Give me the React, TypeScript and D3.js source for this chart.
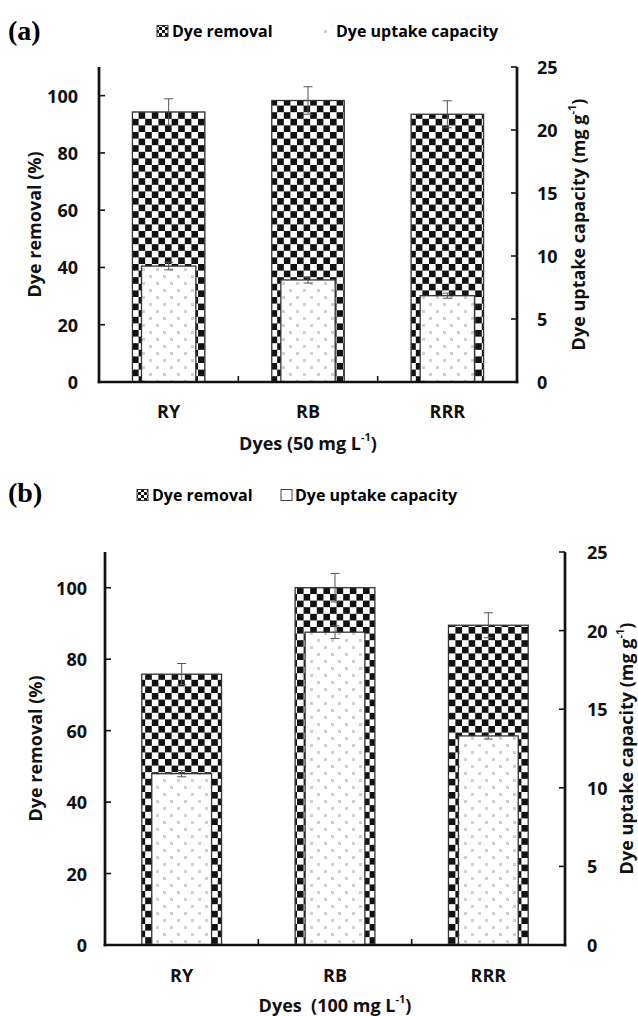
import React from 'react';
import * as d3 from 'd3';

// values
const dyes = ['RY', 'RB', 'RRR'];
const removal50 = [94.3, 98.3, 93.5];
const removalErr50 = [4.6, 4.8, 4.7];
const uptake50 = [9.2, 8.1, 6.85];
const uptakeErr50 = [0.3, 0.25, 0.2];
const removal100 = [75.8, 100, 89.5];
const removalErr100 = [3, 4, 3.5];
const uptake100 = [10.9, 19.9, 13.3];
const uptakeErr100 = [0.2, 0.4, 0.2];
const removalTicks = [0, 20, 40, 60, 80, 100];
const uptakeTicks = [0, 5, 10, 15, 20, 25];

const font = "'Open Sans', sans-serif";

const panels = [
  {
    tag: '(a)', tagY: 40,
    left: 99, right: 517, top: 67, bottom: 382,
    removal: removal50, removalErr: removalErr50,
    uptake: uptake50, uptakeErr: uptakeErr50,
    legendY: 31, legX1: 157, legX2: 322, boxedUptakeIcon: false,
    leftGap: 21, rightGap: 20, leftTitleX: 34, rightTitleX: 578,
    catY: 411, titleY: 443, xTitle: 'Dyes (50 mg L',
  },
  {
    tag: '(b)', tagY: 502,
    left: 105, right: 565, top: 552, bottom: 945,
    removal: removal100, removalErr: removalErr100,
    uptake: uptake100, uptakeErr: uptakeErr100,
    legendY: 495, legX1: 137, legX2: 281, boxedUptakeIcon: true,
    leftGap: 18, rightGap: 22, leftTitleX: 35, rightTitleX: 626,
    catY: 975, titleY: 1005, xTitle: 'Dyes  (100 mg L',
  },
];

const Panel = ({ p }) => {
  const x = d3.scaleBand().domain(dyes).range([p.left, p.right]);
  const yL = d3.scaleLinear().domain([0, 110]).range([p.bottom, p.top]);
  const yR = d3.scaleLinear().domain([0, 25]).range([p.bottom, p.top]);
  const bw = x.bandwidth();
  const wRem = bw * 0.52, wUp = bw * 0.39;
  const cap = 4.5;
  const midY = (p.top + p.bottom) / 2;
  const errColor = '#555';

  return (
    <g>
      <text x={8} y={p.tagY} fontFamily="'Liberation Serif', serif" fontWeight="bold" fontSize={28}>{p.tag}</text>

      {/* legend */}
      <g fontFamily={font} fontWeight="bold" fontSize={16}>
        <rect x={p.legX1} y={p.legendY - 5.5} width={11} height={11} fill="url(#checkS)" stroke="#333" strokeWidth={1} />
        <text x={p.legX1 + 15} y={p.legendY} dominantBaseline="central">Dye removal</text>
        <rect x={p.legX2} y={p.legendY - 5.5} width={11} height={11} fill={p.boxedUptakeIcon ? '#fff' : 'url(#dots)'}
          stroke={p.boxedUptakeIcon ? '#444' : 'none'} strokeWidth={1} />
        <text x={p.legX2 + 14} y={p.legendY} dominantBaseline="central">Dye uptake capacity</text>
      </g>

      {/* bars */}
      {dyes.map((d, i) => {
        const cx = x(d) + bw / 2;
        return (
          <g key={d}>
            <rect x={cx - wRem / 2} y={yL(p.removal[i])} width={wRem} height={p.bottom - yL(p.removal[i])}
              fill="url(#check)" stroke="#333" strokeWidth={1.3} />
            <rect x={cx - wUp / 2} y={yR(p.uptake[i])} width={wUp} height={p.bottom - yR(p.uptake[i])}
              fill="url(#dots)" stroke="#333" strokeWidth={1.3} />
          </g>
        );
      })}

      {/* error bars */}
      {dyes.map((d, i) => {
        const cx = x(d) + bw / 2;
        const r1 = yL(p.removal[i] + p.removalErr[i]), r0 = yL(p.removal[i] - p.removalErr[i]);
        const u1 = yR(p.uptake[i] + p.uptakeErr[i]), u0 = yR(p.uptake[i] - p.uptakeErr[i]);
        return (
          <g key={d} stroke={errColor} strokeWidth={1}>
            <line x1={cx} x2={cx} y1={r1} y2={r0} />
            <line x1={cx - cap} x2={cx + cap} y1={r1} y2={r1} />
            <line x1={cx - cap} x2={cx + cap} y1={r0} y2={r0} />
            <line x1={cx} x2={cx} y1={u1} y2={u0} />
            <line x1={cx - cap} x2={cx + cap} y1={u1} y2={u1} />
            <line x1={cx - cap} x2={cx + cap} y1={u0} y2={u0} />
          </g>
        );
      })}

      {/* axes */}
      <g stroke="#111" fill="none">
        <line x1={p.left} x2={p.left} y1={p.top} y2={p.bottom + 1.3} strokeWidth={2.7} />
        <line x1={p.right} x2={p.right} y1={p.top} y2={p.bottom + 1.3} strokeWidth={2.7} />
        <line x1={p.left - 1.3} x2={p.right + 1.3} y1={p.bottom} y2={p.bottom} strokeWidth={2.7} />
        {removalTicks.map(t => (
          <line key={'l' + t} x1={p.left} x2={p.left + 6} y1={yL(t)} y2={yL(t)} strokeWidth={1.6} />
        ))}
        {uptakeTicks.map(t => (
          <line key={'r' + t} x1={p.right - 6} x2={p.right} y1={yR(t)} y2={yR(t)} strokeWidth={1.6} />
        ))}
        {dyes.slice(1).map(d => (
          <line key={'x' + d} x1={x(d)} x2={x(d)} y1={p.bottom} y2={p.bottom - 6} strokeWidth={1.6} />
        ))}
      </g>

      <g fontFamily={font} fontWeight="bold" fontSize={18} fill="#111">
        {removalTicks.map(t => (
          <text key={'lt' + t} x={p.left - p.leftGap} y={yL(t)} textAnchor="end" dominantBaseline="central">{t}</text>
        ))}
        {uptakeTicks.map(t => (
          <text key={'rt' + t} x={p.right + p.rightGap} y={yR(t)} textAnchor="start" dominantBaseline="central">{t}</text>
        ))}
        {dyes.map(d => (
          <text key={'c' + d} x={x(d) + bw / 2} y={p.catY} textAnchor="middle" dominantBaseline="central">{d}</text>
        ))}
        <text x={(p.left + p.right) / 2} y={p.titleY} textAnchor="middle" dominantBaseline="central" style={{ whiteSpace: 'pre' }}>
          {p.xTitle}<tspan fontSize={11} dy={-7}>-1</tspan><tspan dy={7}>)</tspan>
        </text>
        <text transform={`translate(${p.leftTitleX},${midY}) rotate(-90)`} textAnchor="middle" dominantBaseline="central">
          Dye removal (%)
        </text>
        <text transform={`translate(${p.rightTitleX},${midY}) rotate(-90)`} textAnchor="middle" dominantBaseline="central">
          Dye uptake capacity (mg g<tspan fontSize={11} dy={-7}>-1</tspan><tspan dy={7}>)</tspan>
        </text>
      </g>
    </g>
  );
};

export default function App() {
  const c = 6.6;
  return (
    <svg width={638} height={1016} style={{ position: 'absolute', left: 0, top: 0, background: '#fff' }}>
      <defs>
        <pattern id="check" patternUnits="userSpaceOnUse" width={2 * c} height={2 * c}>
          <rect width={2 * c} height={2 * c} fill="#fff" />
          <rect width={c} height={c} fill="#111" />
          <rect x={c} y={c} width={c} height={c} fill="#111" />
        </pattern>
        <pattern id="checkS" patternUnits="userSpaceOnUse" width={6} height={6}>
          <rect width={6} height={6} fill="#fff" />
          <rect width={3} height={3} fill="#111" />
          <rect x={3} y={3} width={3} height={3} fill="#111" />
        </pattern>
        <pattern id="dots" patternUnits="userSpaceOnUse" width={14} height={14}>
          <rect width={14} height={14} fill="#fff" />
          <rect x={2} y={2} width={3} height={3} fill="#cfcfcf" />
          <rect x={9} y={9} width={3} height={3} fill="#cfcfcf" />
        </pattern>
      </defs>
      <rect width={638} height={1016} fill="#fff" />
      {panels.map(p => <Panel key={p.tag} p={p} />)}
    </svg>
  );
}
